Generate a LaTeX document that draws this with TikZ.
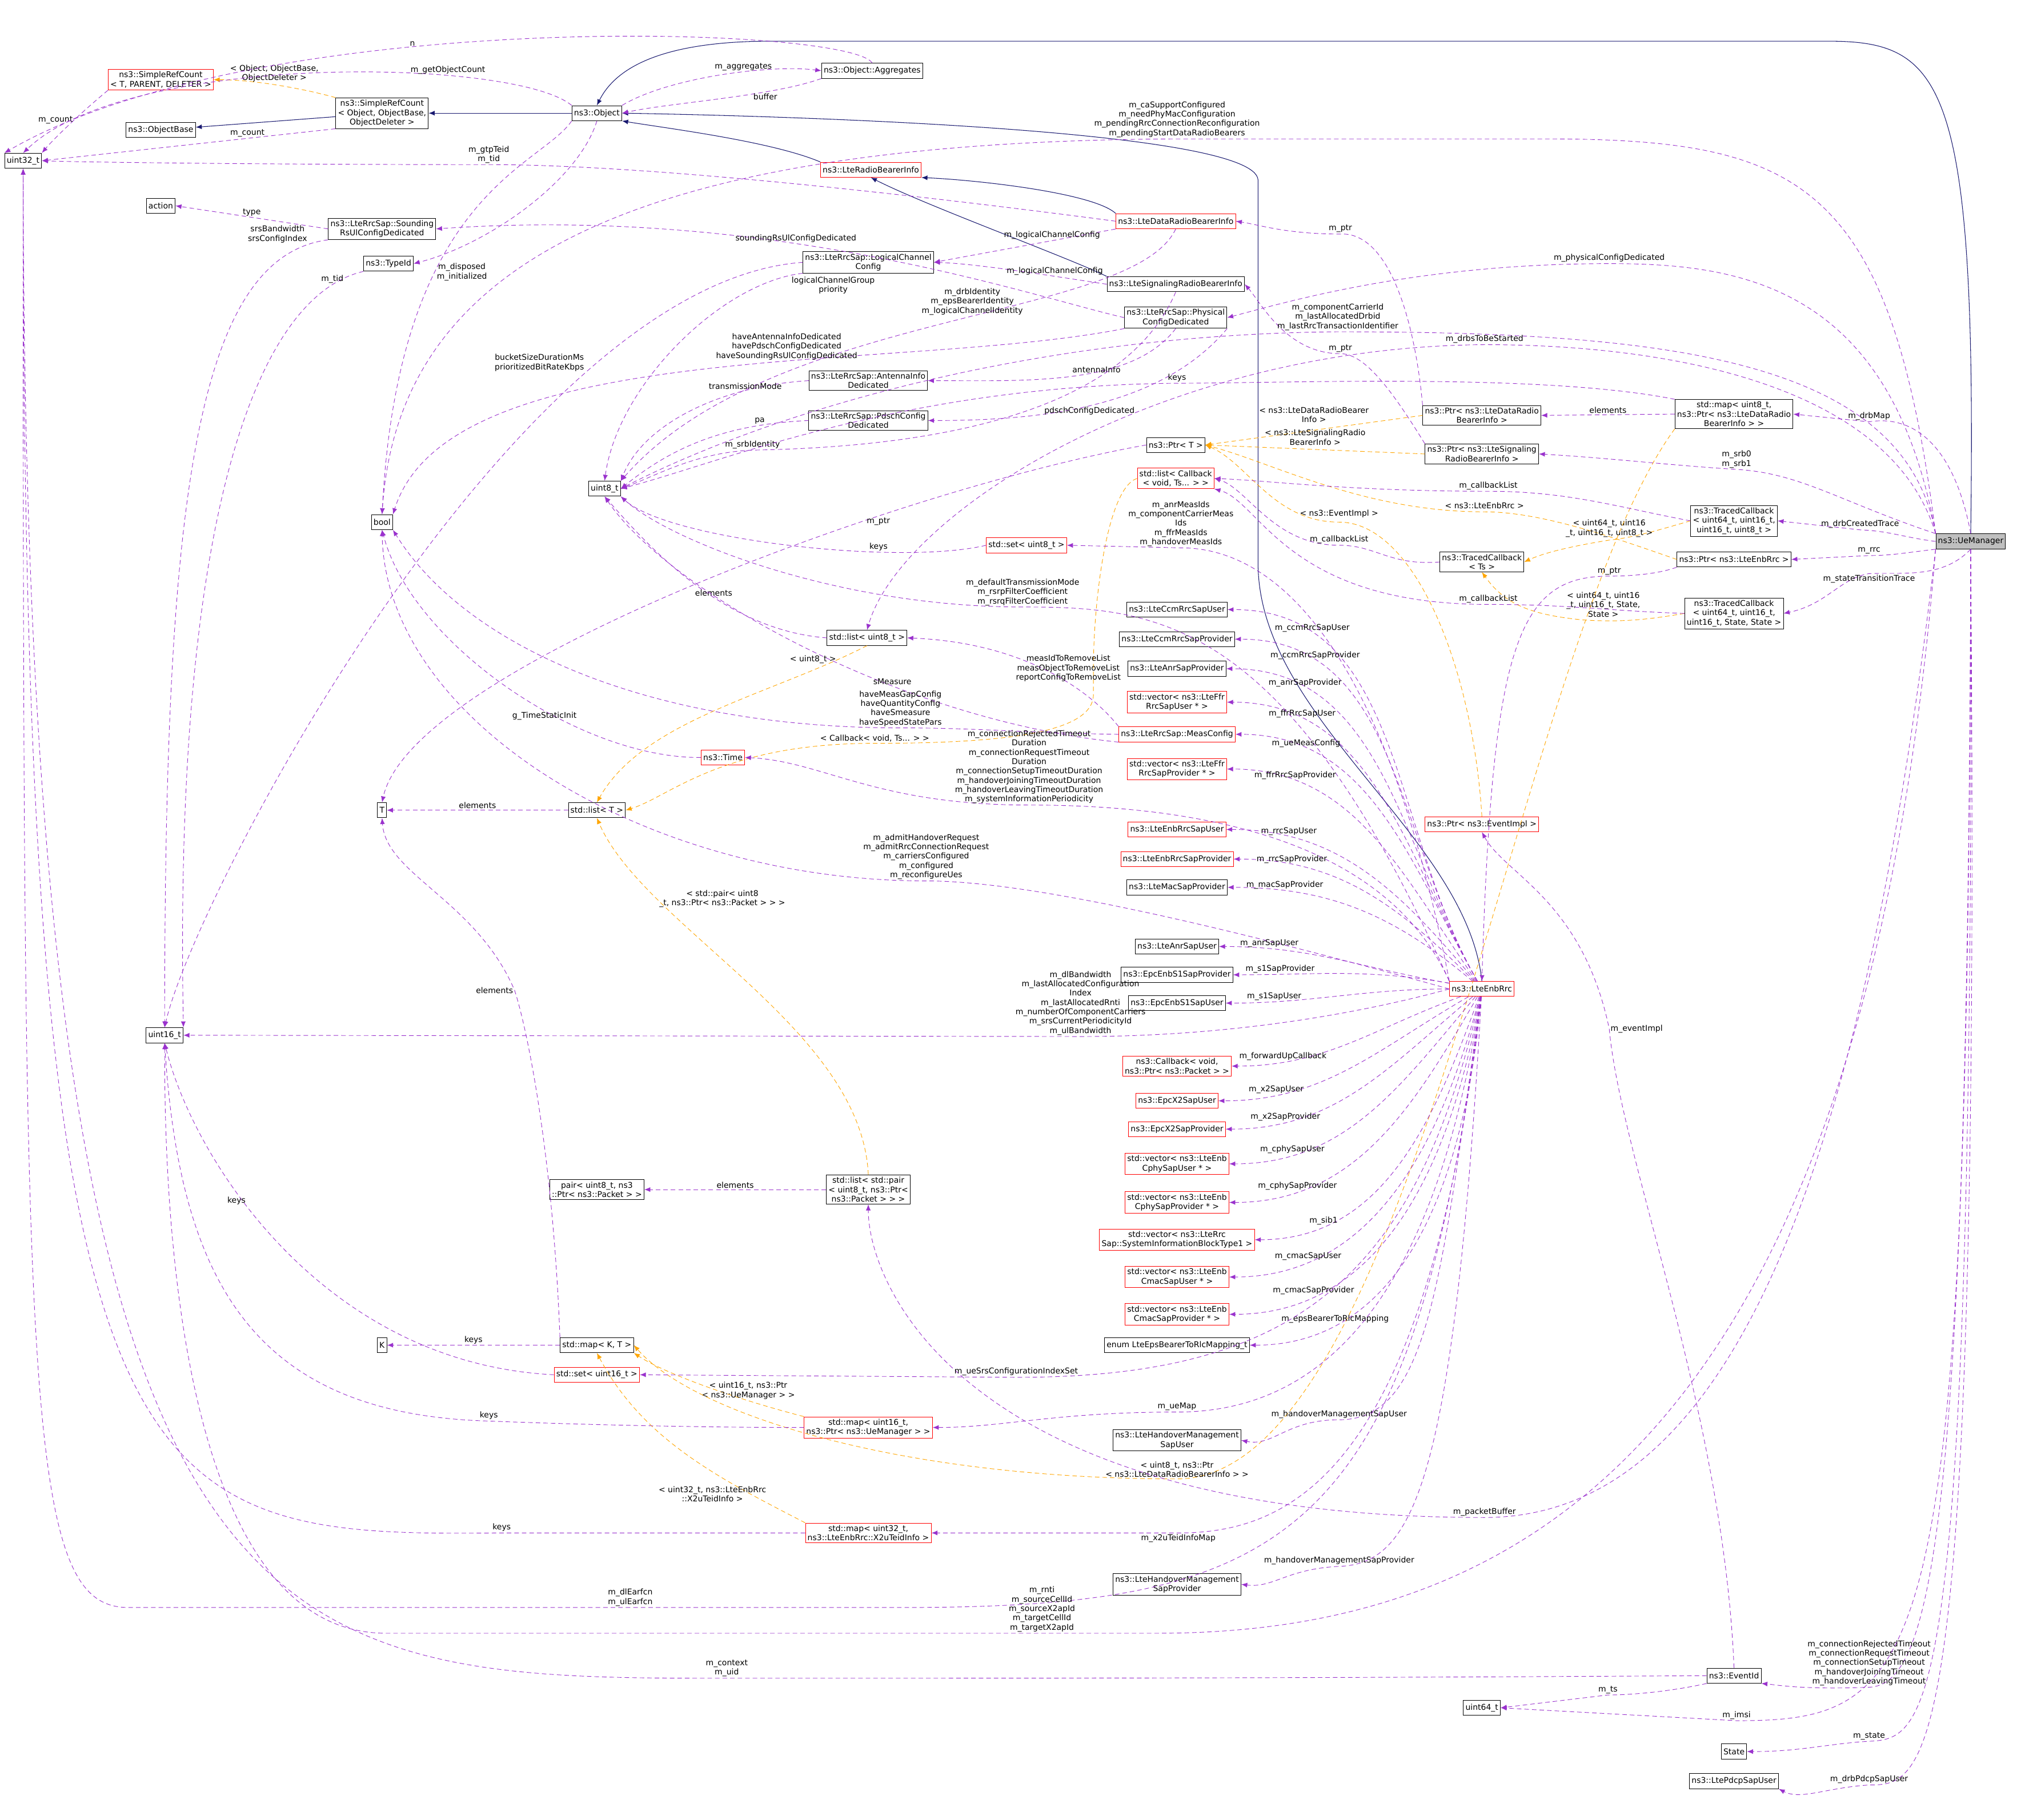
\documentclass[tikz,border=0pt]{standalone}
\usepackage{fontspec}
\setmainfont{DejaVu Sans}
\usetikzlibrary{arrows.meta}
\definecolor{dorchid}{HTML}{9A32CD}
\definecolor{mblue}{HTML}{191970}
\definecolor{dorange}{HTML}{FFA500}
\newcommand{\dfont}{\fontsize{5.3}{6.2}\selectfont}
\tikzset{
 box/.style={draw=black, fill=white, font=\dfont, inner sep=1.4pt, minimum height=10pt, align=center, line width=0.35pt},
 rbox/.style={box, draw=red},
 use/.style={draw=dorchid, dashed, dash pattern=on 3pt off 2pt, line width=0.35pt, -{Latex[length=4pt,width=3.2pt]}},
 inh/.style={draw=mblue, line width=0.4pt, -{Latex[length=4pt,width=3.2pt]}},
 tpl/.style={draw=dorange, dashed, dash pattern=on 3pt off 2pt, line width=0.35pt, -{Latex[length=4pt,width=3.2pt]}},
 lbl/.style={font=\dfont, align=center, inner sep=0.8pt, text=black}
}
\begin{document}
\begin{tikzpicture}[x=0.3mm,y=-0.3mm]
\useasboundingbox (0,0) rectangle (1568,1415);
% nodes
\node[box] (u32) at (18,125) {uint32\_t};
\node[rbox] (srcT) at (125,62) {ns3::SimpleRefCount\\< T, PARENT, DELETER >};
\node[box] (ob) at (125,101) {ns3::ObjectBase};
\node[box] (srcO) at (297,88) {ns3::SimpleRefCount\\< Object, ObjectBase,\\ ObjectDeleter >};
\node[box] (obj) at (464,88) {ns3::Object};
\node[box] (agg) at (678,55) {ns3::Object::Aggregates};
\node[box] (action) at (125,160) {action};
\node[box] (snd) at (297,178) {ns3::LteRrcSap::Sounding\\RsUlConfigDedicated};
\node[box] (tid) at (302,205) {ns3::TypeId};
\node[rbox] (rbi) at (677,132) {ns3::LteRadioBearerInfo};
\node[rbox] (drbi) at (914,172) {ns3::LteDataRadioBearerInfo};
\node[box] (lcc) at (675,204) {ns3::LteRrcSap::LogicalChannel\\Config};
\node[box] (srbi) at (914,221) {ns3::LteSignalingRadioBearerInfo};
\node[box] (pcd) at (914,247) {ns3::LteRrcSap::Physical\\ConfigDedicated};
\node[box] (aid) at (675,296) {ns3::LteRrcSap::AntennaInfo\\Dedicated};
\node[box] (pdc) at (675,327) {ns3::LteRrcSap::PdschConfig\\Dedicated};
\node[box] (u8) at (470,380) {uint8\_t};
\node[box] (bool) at (297,406) {bool};
\node[box] (ptrT) at (914,346) {ns3::Ptr< T >};
\node[rbox] (lcb) at (914,372) {std::list< Callback\\< void, Ts... > >};
\node[rbox] (set8) at (798,424) {std::set< uint8\_t >};
\node[box] (l8) at (674,496) {std::list< uint8\_t >};
\node[rbox] (time) at (562,589) {ns3::Time};
\node[box] (T) at (297,630) {T};
\node[box] (lT) at (464,630) {std::list< T >};
\node[box] (u16) at (128,805) {uint16\_t};
\node[box] (pair) at (464,925) {pair< uint8\_t, ns3\\::Ptr< ns3::Packet > >};
\node[box] (lpair) at (675,925) {std::list< std::pair\\< uint8\_t, ns3::Ptr<\\ns3::Packet > > >};
\node[box] (K) at (297,1046) {K};
\node[box] (mKT) at (464,1046) {std::map< K, T >};
\node[rbox] (set16) at (464,1069) {std::set< uint16\_t >};
\node[rbox] (m16) at (675,1110) {std::map< uint16\_t,\\ns3::Ptr< ns3::UeManager > >};
\node[rbox] (m32) at (675,1192) {std::map< uint32\_t,\\ns3::LteEnbRrc::X2uTeidInfo >};
% right column
\node[box] (ccmU) at (915,474) {ns3::LteCcmRrcSapUser};
\node[box] (ccmP) at (915,497) {ns3::LteCcmRrcSapProvider};
\node[box] (anrP) at (915,520) {ns3::LteAnrSapProvider};
\node[rbox] (ffrU) at (915,546) {std::vector< ns3::LteFfr\\RrcSapUser * >};
\node[rbox] (meas) at (915,571) {ns3::LteRrcSap::MeasConfig};
\node[rbox] (ffrP) at (915,598) {std::vector< ns3::LteFfr\\RrcSapProvider * >};
\node[rbox] (rrcU) at (915,645) {ns3::LteEnbRrcSapUser};
\node[rbox] (rrcP) at (915,668) {ns3::LteEnbRrcSapProvider};
\node[box] (macP) at (915,690) {ns3::LteMacSapProvider};
\node[box] (anrU) at (915,736) {ns3::LteAnrSapUser};
\node[box] (s1P) at (915,758) {ns3::EpcEnbS1SapProvider};
\node[box] (s1U) at (915,780) {ns3::EpcEnbS1SapUser};
\node[rbox] (cbk) at (915,829) {ns3::Callback< void,\\ns3::Ptr< ns3::Packet > >};
\node[rbox] (x2U) at (915,856) {ns3::EpcX2SapUser};
\node[rbox] (x2P) at (915,878) {ns3::EpcX2SapProvider};
\node[rbox] (cphyU) at (915,905) {std::vector< ns3::LteEnb\\CphySapUser * >};
\node[rbox] (cphyP) at (915,935) {std::vector< ns3::LteEnb\\CphySapProvider * >};
\node[rbox] (sib) at (915,964) {std::vector< ns3::LteRrc\\Sap::SystemInformationBlockType1 >};
\node[rbox] (cmacU) at (915,993) {std::vector< ns3::LteEnb\\CmacSapUser * >};
\node[rbox] (cmacP) at (915,1022) {std::vector< ns3::LteEnb\\CmacSapProvider * >};
\node[box] (eps) at (915,1046) {enum LteEpsBearerToRlcMapping\_t};
\node[box] (hoU) at (915,1120) {ns3::LteHandoverManagement\\SapUser};
\node[box] (hoP) at (915,1232) {ns3::LteHandoverManagement\\SapProvider};
\node[rbox] (enb) at (1152,769) {ns3::LteEnbRrc};
\node[rbox] (pEv) at (1152,641) {ns3::Ptr< ns3::EventImpl >};
\node[box] (tcTs) at (1152,437) {ns3::TracedCallback\\< Ts >};
\node[box] (pDrb) at (1152,323) {ns3::Ptr< ns3::LteDataRadio\\BearerInfo >};
\node[box] (pSrb) at (1152,353) {ns3::Ptr< ns3::LteSignaling\\RadioBearerInfo >};
\node[box] (mDrb) at (1348,322) {std::map< uint8\_t,\\ns3::Ptr< ns3::LteDataRadio\\BearerInfo > >};
\node[box] (tc3) at (1348,405) {ns3::TracedCallback\\< uint64\_t, uint16\_t,\\uint16\_t, uint8\_t >};
\node[box] (pEnb) at (1348,435) {ns3::Ptr< ns3::LteEnbRrc >};
\node[box] (tcS) at (1348,477) {ns3::TracedCallback\\< uint64\_t, uint16\_t,\\uint16\_t, State, State >};
\node[box, fill=black!25] (ue) at (1532,421) {ns3::UeManager};
\node[box] (evid) at (1348,1303) {ns3::EventId};
\node[box] (u64) at (1152,1328) {uint64\_t};
\node[box] (state) at (1348,1362) {State};
\node[box] (pdcp) at (1348,1385) {ns3::LtePdcpSapUser};

% inheritance
\draw[inh] (srcO) -- (ob);
\draw[inh] (obj) -- (srcO);
\draw[inh] (rbi.north west) .. controls (600,110) and (520,100) .. (obj.south east);
\draw[inh] (drbi.north west) .. controls (850,150) and (760,140) .. (rbi.south east);
\draw[inh] (srbi.north west) .. controls (830,200) and (720,160) .. (rbi.south);
\draw[inh] (enb.north) .. controls (1140,650) and (980,560) .. (978,440) -- (978,140) .. controls (976,100) and (600,90) .. (obj.east);
\draw[inh] (ue.north) .. controls (1537,60) and (1510,32) .. (1420,32) -- (600,32) .. controls (520,32) and (480,50) .. (obj.north);
% template (orange)
\draw[tpl] (srcO.north west) .. controls (240,70) and (200,62) .. node[lbl,pos=0.55,above=1pt]{< Object, ObjectBase,\\ObjectDeleter >} (srcT.east);
\draw[tpl] (pDrb.west) -- node[lbl,above=4pt,pos=0.5]{< ns3::LteDataRadioBearer\\Info >} (ptrT.east);
\draw[tpl] (pSrb.west) -- node[lbl,above=2pt,pos=0.5]{< ns3::LteSignalingRadio\\BearerInfo >} (ptrT.east);
\draw[tpl] (pEv.north) .. controls (1145,520) and (1100,406) .. (1041,406) node[lbl,above=2pt]{< ns3::EventImpl >} .. controls (990,406) and (970,360) .. (ptrT.east);
\draw[tpl] (pEnb.west) .. controls (1260,420) and (1200,398) .. (1154,398) node[lbl,above=1pt]{< ns3::LteEnbRrc >} .. controls (1060,398) and (990,360) .. (ptrT.east);
\draw[tpl] (tc3.west) .. controls (1290,412) and (1270,418) .. (1251,420) node[lbl,above=1pt]{< uint64\_t, uint16\\\_t, uint16\_t, uint8\_t >} .. controls (1220,425) and (1200,430) .. (tcTs.east);
\draw[tpl] (tcS.west) .. controls (1280,482) and (1260,484) .. (1230,482) node[lbl,above=1pt,xshift=14pt]{< uint64\_t, uint16\\\_t, uint16\_t, State,\\State >} .. controls (1190,478) and (1170,470) .. (tcTs.south);
\draw[tpl] (lcb.west) .. controls (860,380) and (850,470) .. (850,520) -- (850,540) .. controls (850,570) and (780,578) .. (680,578) node[lbl,above]{< Callback< void, Ts... > >} .. controls (560,578) and (520,620) .. (lT.east);
\draw[tpl] (l8.south) .. controls (600,540) and (500,560) .. node[lbl,pos=0.1,left]{< uint8\_t >} (lT.north);
\draw[tpl] (lpair.north) .. controls (670,800) and (500,720) .. node[lbl,pos=0.75,right]{< std::pair< uint8\\\_t, ns3::Ptr< ns3::Packet > > >} (lT.south);
\draw[tpl] (m16.north west) .. controls (580,1090) and (520,1070) .. node[lbl,pos=0.3,above]{< uint16\_t, ns3::Ptr\\< ns3::UeManager > >} (mKT.south east);
\draw[tpl] (m32.north west) .. controls (560,1150) and (500,1120) .. node[lbl,pos=0.15,above left]{< uint32\_t, ns3::LteEnbRrc\\::X2uTeidInfo >} (mKT.south);
\draw[tpl] (mDrb.south west) .. controls (1180,500) and (1100,1150) .. (915,1150) node[lbl,above]{< uint8\_t, ns3::Ptr\\< ns3::LteDataRadioBearerInfo > >} .. controls (700,1150) and (540,1100) .. (mKT.east);
% usage
\draw[use] (srcT.south west) .. controls (60,90) and (40,110) .. node[lbl,pos=0.4,left]{m\_count} (u32.north east);
\draw[use] (srcO.south west) -- node[lbl,above,pos=0.3]{m\_count} (u32.east);
\draw[use] (obj.north west) .. controls (400,45) and (100,40) .. node[lbl,above,pos=0.3]{m\_getObjectCount} (u32.north);
\draw[use] (agg.north) .. controls (660,20) and (200,5) .. node[lbl,above,pos=0.6]{n} (u32.north west);
\draw[use] (obj.north east) .. controls (520,60) and (600,50) .. node[lbl,above,pos=0.6]{m\_aggregates} (agg.west);
\draw[use] (agg.south west) .. controls (600,75) and (520,80) .. node[lbl,below,pos=0.3]{buffer} (obj.east);
\draw[use] (drbi.west) .. controls (700,150) and (500,128) .. (380,128) node[lbl,above]{m\_gtpTeid\\m\_tid} .. controls (200,128) and (60,126) .. (u32.east);
\draw[use] (obj.south west) .. controls (420,130) and (310,150) .. node[lbl,pos=0.65,right]{m\_disposed\\m\_initialized} (bool.north);
\draw[use] (obj.south) .. controls (450,140) and (380,190) .. (tid.east);
\draw[use] (snd.west) -- node[lbl,above]{type} (action.east);
\draw[use] (snd.south west) .. controls (150,200) and (128,400) .. node[lbl,pos=0.05,above left]{srsBandwidth\\srsConfigIndex} (u16.north);
\draw[use] (tid.south west) .. controls (200,230) and (135,400) .. node[lbl,pos=0.1,above]{m\_tid} (u16.north east);
\draw[use] (pcd.west) .. controls (800,230) and (600,160) .. node[lbl,pos=0.6,above]{soundingRsUlConfigDedicated} (snd.east);
\draw[use] (drbi.south west) -- node[lbl,above,pos=0.35]{m\_logicalChannelConfig} (lcc.east);
\draw[use] (srbi.west) .. controls (820,215) and (760,205) .. node[lbl,above,pos=0.3]{m\_logicalChannelConfig} (lcc.east);
\draw[use] (lcc.south west) .. controls (560,220) and (480,300) .. node[lbl,pos=0.05,below right]{logicalChannelGroup\\priority} (u8.north);
\draw[use] (lcc.west) .. controls (400,220) and (150,700) .. node[lbl,pos=0.25,above left]{bucketSizeDurationMs\\prioritizedBitRateKbps} (u16.north);
\draw[use] (drbi.south) .. controls (880,250) and (600,240) .. node[lbl,pos=0.45,above]{m\_drbIdentity\\m\_epsBearerIdentity\\m\_logicalChannelIdentity} (u8.north east);
\draw[use] (pcd.south west) .. controls (700,290) and (350,260) .. node[lbl,pos=0.4,above]{haveAntennaInfoDedicated\\havePdschConfigDedicated\\haveSoundingRsUlConfigDedicated} (bool.north east);
\draw[use] (ue.north west) .. controls (1470,220) and (1350,205) .. (1251,205) node[lbl,above]{m\_physicalConfigDedicated} .. controls (1100,205) and (1000,235) .. (pcd.east);
\draw[use] (pcd.south) .. controls (880,300) and (800,296) .. node[lbl,pos=0.3,below left]{antennaInfo} (aid.east);
\draw[use] (pcd.south east) .. controls (900,320) and (800,327) .. node[lbl,pos=0.5,below]{pdschConfigDedicated} (pdc.east);
\draw[use] (aid.west) .. controls (560,300) and (500,330) .. node[lbl,pos=0.25,above]{transmissionMode} (u8.north east);
\draw[use] (pdc.west) .. controls (560,330) and (520,350) .. node[lbl,pos=0.2,above]{pa} (u8.east);
\draw[use] (srbi.south) .. controls (870,330) and (700,348) .. (585,350) node[lbl,above]{m\_srbIdentity} .. controls (540,352) and (510,370) .. (u8.east);
\draw[use] (pDrb.north west) .. controls (1100,250) and (1080,180) .. (1042,182) node[lbl,above]{m\_ptr} .. controls (1000,182) and (980,175) .. (drbi.east);
\draw[use] (pSrb.north west) .. controls (1080,300) and (1060,275) .. (1042,275) node[lbl,above]{m\_ptr} .. controls (1000,275) and (980,235) .. (srbi.east);
\draw[use] (mDrb.west) -- node[lbl,above]{elements} (pDrb.east);
\draw[use] (mDrb.north west) .. controls (1200,290) and (1000,298) .. (915,298) node[lbl,above]{keys} .. controls (700,300) and (560,360) .. (u8.east);
\draw[use] (ptrT.west) .. controls (700,380) and (320,520) .. node[lbl,pos=0.3,below]{m\_ptr} (T.north);
\draw[use] (set8.west) .. controls (700,440) and (520,420) .. node[lbl,pos=0.3,above]{keys} (u8.south east);
\draw[use] (l8.west) .. controls (560,490) and (500,420) .. node[lbl,pos=0.4,above]{elements} (u8.south);
\draw[use] (enb.north west) .. controls (1000,480) and (900,472) .. (795,472) node[lbl,above]{m\_defaultTransmissionMode\\m\_rsrpFilterCoefficient\\m\_rsrqFilterCoefficient} .. controls (650,472) and (520,420) .. (u8.south east);
\draw[use] (ue.north west) .. controls (1480,280) and (1300,258) .. (1040,258) node[lbl,above]{m\_componentCarrierId\\m\_lastAllocatedDrbid\\m\_lastRrcTransactionIdentifier} .. controls (800,260) and (600,320) .. (u8.east);
\draw[use] (ue.north west) .. controls (1470,300) and (1300,268) .. (1154,268) node[lbl,above]{m\_drbsToBeStarted} .. controls (900,270) and (700,400) .. (l8.north);
\draw[use] (meas.south west) .. controls (700,560) and (520,460) .. node[lbl,pos=0.35,above]{sMeasure} (u8.south);
\draw[use] (meas.north west) .. controls (850,540) and (800,500) .. node[lbl,pos=0.4,above]{measIdToRemoveList\\measObjectToRemoveList\\reportConfigToRemoveList} (l8.east);
\draw[use] (meas.west) .. controls (800,570) and (760,566) .. (700,566) node[lbl,above]{haveMeasGapConfig\\haveQuantityConfig\\haveSmeasure\\haveSpeedStatePars} .. controls (500,566) and (360,500) .. (bool.south east);
\draw[use] (time.west) .. controls (450,590) and (320,500) .. node[lbl,pos=0.4,below]{g\_TimeStaticInit} (bool.south);
\draw[use] (enb.north west) .. controls (1080,520) and (1000,426) .. (918,426) node[lbl,above]{m\_anrMeasIds\\m\_componentCarrierMeas\\Ids\\m\_ffrMeasIds\\m\_handoverMeasIds} -- (set8.east);
\draw[use] (tcTs.west) .. controls (1080,440) and (1070,424) .. (1041,424) node[lbl,above]{m\_callbackList} .. controls (990,424) and (970,380) .. (lcb.east);
\draw[use] (tc3.west) .. controls (1260,395) and (1220,382) .. (1157,382) node[lbl,above]{m\_callbackList} .. controls (1050,382) and (990,374) .. (lcb.east);
\draw[use] (tcS.west) .. controls (1250,475) and (1220,470) .. (1157,470) node[lbl,above]{m\_callbackList} .. controls (1000,470) and (980,390) .. (lcb.south east);
\draw[use] (ue.north west) .. controls (1470,140) and (1400,108) .. (1200,108) -- (915,108) node[lbl,above]{m\_caSupportConfigured\\m\_needPhyMacConfiguration\\m\_pendingRrcConnectionReconfiguration\\m\_pendingStartDataRadioBearers} .. controls (500,110) and (310,200) .. (bool.north);
\draw[use] (enb.west) .. controls (950,720) and (800,685) .. (720,685) node[lbl,above]{m\_admitHandoverRequest\\m\_admitRrcConnectionRequest\\m\_carriersConfigured\\m\_configured\\m\_reconfigureUes} .. controls (500,685) and (300,560) .. (bool.south);
\draw[use] (lT.west) -- node[lbl,above]{elements} (T.east);
\draw[use] (mKT.north west) .. controls (430,900) and (410,800) .. (400,770) node[lbl,left]{elements} .. controls (370,700) and (300,680) .. (T.south);
\draw[use] (mKT.west) -- node[lbl,above]{keys} (K.east);
\draw[use] (enb.north west) .. controls (1080,660) and (950,626) .. (800,626) node[lbl,above]{m\_connectionRejectedTimeout\\Duration\\m\_connectionRequestTimeout\\Duration\\m\_connectionSetupTimeoutDuration\\m\_handoverJoiningTimeoutDuration\\m\_handoverLeavingTimeoutDuration\\m\_systemInformationPeriodicity} .. controls (680,626) and (640,592) .. (time.east);
\draw[use] (enb.west) .. controls (1050,790) and (950,806) .. (840,806) node[lbl,above]{m\_dlBandwidth\\m\_lastAllocatedConfiguration\\Index\\m\_lastAllocatedRnti\\m\_numberOfComponentCarriers\\m\_srsCurrentPeriodicityId\\m\_ulBandwidth} -- (u16.east);
\draw[use] (set16.west) .. controls (250,1060) and (150,900) .. node[lbl,pos=0.6,above left]{keys} (u16.south);
\draw[use] (m16.west) .. controls (500,1110) and (380,1105) .. (380,1105) node[lbl,above]{keys} .. controls (200,1100) and (140,1000) .. (u16.south);
\draw[use] (m32.west) .. controls (500,1192) and (390,1192) .. (390,1192) node[lbl,above]{keys} .. controls (100,1195) and (18,1180) .. (u32.south);
\draw[use] (lpair.west) -- node[lbl,above]{elements} (pair.east);
\draw[use] (ue.south west) .. controls (1450,900) and (1350,1180) .. (1154,1180) node[lbl,above]{m\_packetBuffer} .. controls (750,1180) and (675,1000) .. (lpair.south);
% LteEnbRrc fan
\foreach \t/\l/\o in {ccmU/m\_ccmRrcSapUser/120,ccmP/m\_ccmRrcSapProvider/120,anrP/m\_anrSapProvider/120,ffrU/m\_ffrRrcSapUser/120,meas/m\_ueMeasConfig/120,ffrP/m\_ffrRrcSapProvider/125,rrcU/m\_rrcSapUser/130,rrcP/m\_rrcSapProvider/135,macP/m\_macSapProvider/140,anrU/m\_anrSapUser/170,s1P/m\_s1SapProvider/170,s1U/m\_s1SapUser/180,cbk/m\_forwardUpCallback/200,x2U/m\_x2SapUser/210,x2P/m\_x2SapProvider/220,cphyU/m\_cphySapUser/230,cphyP/m\_cphySapProvider/240,sib/m\_sib1/250,cmacU/m\_cmacSapUser/255,cmacP/m\_cmacSapProvider/260,eps/m\_epsBearerToRlcMapping/265}
 \draw[use] (enb) to[out=\o,in=0] node[lbl,pos=0.8,above]{\l} (\t.east);
\draw[use] (enb) .. controls (1120,1000) and (1110,1104) .. (1041,1104) node[lbl,above]{m\_handoverManagementSapUser} .. controls (1000,1104) and (990,1125) .. (hoU.east);
\draw[use] (enb) .. controls (1100,1000) and (1000,1071) .. (790,1071) node[lbl,above]{m\_ueSrsConfigurationIndexSet} -- (set16.east);
\draw[use] (enb) .. controls (1110,1050) and (1000,1098) .. (915,1098) node[lbl,above]{m\_ueMap} .. controls (820,1098) and (780,1110) .. (m16.east);
\draw[use] (enb) .. controls (1110,1150) and (1000,1192) .. (916,1192) node[lbl,below]{m\_x2uTeidInfoMap} -- (m32.east);
\draw[use] (enb) .. controls (1130,1150) and (1100,1216) .. (1041,1218) node[lbl,above]{m\_handoverManagementSapProvider} .. controls (1000,1220) and (990,1235) .. (hoP.east);
\draw[use] (enb) .. controls (1100,1200) and (1000,1250) .. (700,1250) -- node[lbl,pos=0.35,above]{m\_dlEarfcn\\m\_ulEarfcn} (100,1250) .. controls (20,1250) and (18,1100) .. (u32.south);
\draw[use] (ue.south west) .. controls (1450,1100) and (1200,1270) .. (900,1270) -- node[lbl,pos=0.15,above]{m\_rnti\\m\_sourceCellId\\m\_sourceX2apId\\m\_targetCellId\\m\_targetX2apId} (300,1270) .. controls (130,1270) and (128,900) .. (u16.south);
\draw[use] (pEnb.south west) .. controls (1290,446) and (1270,448) .. (1251,448) node[lbl,above]{m\_ptr} .. controls (1180,448) and (1160,500) .. (enb.north);
\draw[use] (evid.west) .. controls (1000,1305) and (800,1305) .. (565,1305) node[lbl,above]{m\_context\\m\_uid} .. controls (200,1305) and (20,1300) .. (u32.south);
\draw[use] (evid.south west) .. controls (1300,1315) and (1270,1318) .. (1250,1318) node[lbl,above]{m\_ts} -- (u64.east);
\draw[use] (evid.north) .. controls (1340,1100) and (1260,900) .. (1251,800) node[lbl,right]{m\_eventImpl} .. controls (1230,700) and (1170,680) .. (pEv.south);
\draw[use] (ue.south) .. controls (1530,1200) and (1500,1310) .. (1453,1312) node[lbl,above]{m\_connectionRejectedTimeout\\m\_connectionRequestTimeout\\m\_connectionSetupTimeout\\m\_handoverJoiningTimeout\\m\_handoverLeavingTimeout} .. controls (1400,1314) and (1380,1310) .. (evid.south east);
\draw[use] (ue.south) .. controls (1530,1300) and (1500,1338) .. (1350,1338) node[lbl,above]{m\_imsi} -- (u64.east);
\draw[use] (ue.south) .. controls (1535,1340) and (1500,1352) .. (1453,1354) node[lbl,above]{m\_state} .. controls (1420,1356) and (1400,1362) .. (state.east);
\draw[use] (ue.south) .. controls (1540,1380) and (1500,1388) .. (1453,1388) node[lbl,above]{m\_drbPdcpSapUser} .. controls (1420,1390) and (1400,1400) .. (pdcp.south east);
\draw[use] (ue.north) .. controls (1520,350) and (1490,322) .. (1453,328) node[lbl,above]{m\_drbMap} -- (mDrb.east);
\draw[use] (ue.north west) .. controls (1430,390) and (1400,368) .. (1350,365) node[lbl,above]{m\_srb0\\m\_srb1} .. controls (1300,362) and (1250,356) .. (pSrb.east);
\draw[use] (ue.west) .. controls (1480,418) and (1470,413) .. (1446,412) node[lbl,above]{m\_drbCreatedTrace} -- (tc3.east);
\draw[use] (ue.south west) .. controls (1480,430) and (1470,432) .. (1453,432) node[lbl,above]{m\_rrc} -- (pEnb.east);
\draw[use] (ue.south) .. controls (1510,450) and (1480,445) .. (1453,446) node[lbl,below]{m\_stateTransitionTrace} .. controls (1430,450) and (1420,470) .. (tcS.east);
\end{tikzpicture}
\end{document}
